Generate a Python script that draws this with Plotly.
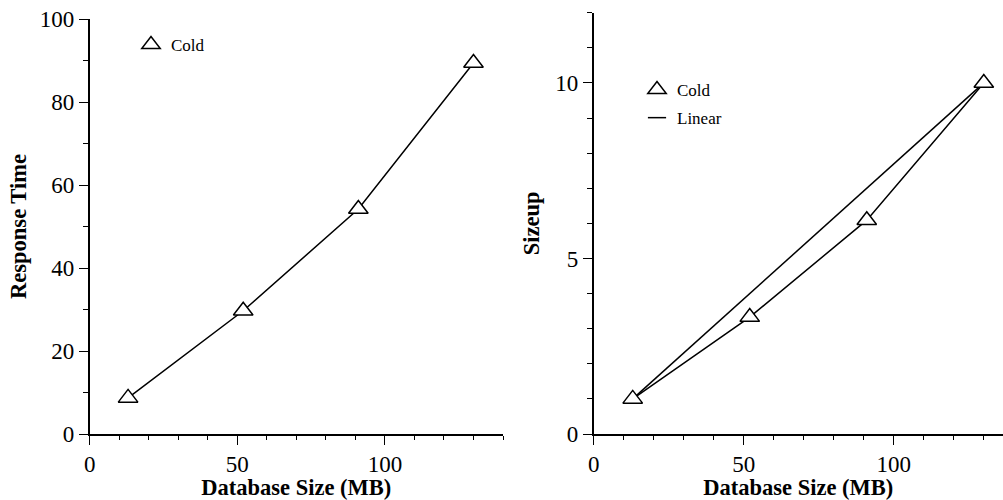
import plotly.graph_objects as go

# ---- data ----
db_size_mb = [13, 52, 91, 130]
response_time = [8.7, 29.7, 54.2, 89.4]
sizeup_cold = [1.0, 3.33, 6.09, 10.0]
linear_x = [13, 130]
linear_y = [1, 10]

W, H = 1003, 500
FONT = "Liberation Serif"
BLACK = "black"

fig = go.Figure()

marker_style = dict(symbol="triangle-up", size=17, color="white",
                    line=dict(color=BLACK, width=1.5))

# left panel
fig.add_trace(go.Scatter(x=db_size_mb, y=response_time, mode="lines",
                         line=dict(color=BLACK, width=1.5), showlegend=False,
                         xaxis="x", yaxis="y", hoverinfo="skip"))
fig.add_trace(go.Scatter(x=db_size_mb, y=response_time, mode="markers",
                         marker=marker_style, name="Cold", legend="legend",
                         xaxis="x", yaxis="y"))

# right panel
fig.add_trace(go.Scatter(x=linear_x, y=linear_y, mode="lines",
                         line=dict(color=BLACK, width=1.5), showlegend=False,
                         xaxis="x2", yaxis="y2", hoverinfo="skip"))
fig.add_trace(go.Scatter(x=db_size_mb, y=sizeup_cold, mode="lines",
                         line=dict(color=BLACK, width=1.5), showlegend=False,
                         xaxis="x2", yaxis="y2", hoverinfo="skip"))
fig.add_trace(go.Scatter(x=db_size_mb, y=sizeup_cold, mode="markers",
                         marker=marker_style, name="Cold", legend="legend2",
                         legendgroup="cold", xaxis="x2", yaxis="y2"))
# legend proxy for the Linear line (short dash symbol)
fig.add_trace(go.Scatter(x=[None], y=[None], mode="markers",
                         marker=dict(symbol="line-ew-open", size=13, color=BLACK,
                                     line=dict(color=BLACK, width=1.5)),
                         name="Linear", legend="legend2", legendgroup="linear",
                         xaxis="x2", yaxis="y2"))


def axis(domain, rng, dtick, minor_dtick, title, anchor, standoff):
    return dict(
        domain=domain, range=rng, dtick=dtick, tick0=0, anchor=anchor,
        automargin=False,
        ticks="outside", ticklen=9, tickwidth=1.3, tickcolor=BLACK,
        showline=True, linecolor=BLACK, linewidth=1.5,
        showgrid=False, zeroline=False,
        tickfont=dict(family=FONT, size=23, color=BLACK),
        minor=dict(dtick=minor_dtick, tick0=0, ticks="outside", ticklen=4.5,
                   tickwidth=1.3, tickcolor=BLACK, showgrid=False),
        title=dict(text=title, font=dict(family=FONT, size=22.5, color=BLACK,
                                         weight="bold"), standoff=standoff),
    )


y_bottom = 1 - 434 / H
fig.update_layout(
    width=W, height=H,
    margin=dict(l=0, r=0, t=0, b=0, autoexpand=False),
    paper_bgcolor="white", plot_bgcolor="white",
    font=dict(family=FONT, color=BLACK),
    xaxis=axis([89.7 / W, 503 / W], [0, 140], 50, 10, "Database Size (MB)", "y", 9),
    yaxis=axis([y_bottom, 1 - 19 / H], [0, 100], 20, 10, "Response Time", "x", 7),
    xaxis2=axis([593.7 / W, 1.0], [0, 136.4], 50, 10, "Database Size (MB)", "y2", 9),
    yaxis2=axis([y_bottom, 1 - 12.7 / H], [0, 12], 5, 1, "Sizeup", "x2", 9),
    legend=dict(x=131 / W, y=1 - 27 / H, xanchor="left", yanchor="top",
                bgcolor="rgba(0,0,0,0)", borderwidth=0,
                font=dict(family=FONT, size=17, color=BLACK)),
    legend2=dict(x=637 / W, y=1 - 72 / H, xanchor="left", yanchor="top",
                 bgcolor="rgba(0,0,0,0)", borderwidth=0, tracegroupgap=3,
                 traceorder="grouped",
                 font=dict(family=FONT, size=17, color=BLACK)),
    showlegend=True,
)

fig.write_html("out.html")
